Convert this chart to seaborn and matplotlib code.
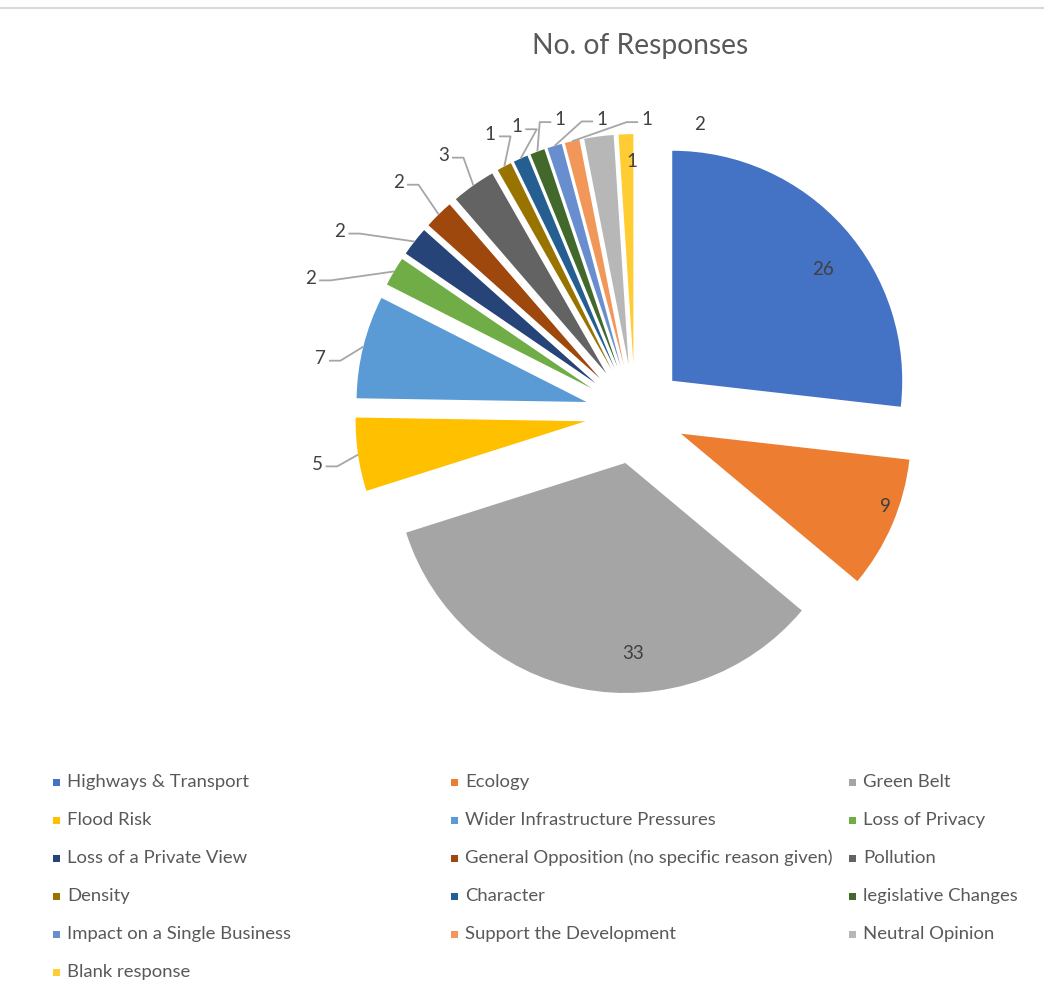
import numpy as np
import matplotlib
matplotlib.use("Agg")
import matplotlib.pyplot as plt
from matplotlib.patches import Rectangle
from matplotlib.lines import Line2D
import seaborn as sns

# ---------------- data ----------------
categories = [
    "Highways & Transport", "Ecology", "Green Belt", "Flood Risk",
    "Wider Infrastructure Pressures", "Loss of Privacy", "Loss of a Private View",
    "General Opposition (no specific reason given)", "Pollution", "Density",
    "Character", "legislative Changes", "Impact on a Single Business",
    "Support the Development", "Neutral Opinion", "Blank response",
]
responses = [26, 9, 33, 5, 7, 2, 2, 2, 3, 1, 1, 1, 1, 1, 2, 1]
title_text = "No. of Responses"

# ---------------- style ----------------
colors = ["#4472C4", "#ED7D31", "#A5A5A5", "#FFC000", "#5B9BD5", "#70AD47",
          "#264478", "#9E480E", "#636363", "#997300", "#255E91", "#43682B",
          "#698ED0", "#F1975A", "#B7B7B7", "#FFCD33"]
# label layout: (radius from pie centre, angle shift clockwise deg, leader line?)
label_layout = [
    (1.03, 4.2, False), (1.16, -3.0, False), (1.04, -10.6, False),
    (1.40, -0.6, True), (1.39, -3.9, True), (1.53, -7.9, True),
    (1.51, -6.3, True), (1.44, -1.1, True), (1.40, -1.3, True),
    (1.37, 0.5, True), (1.35, 1.7, True), (1.32, 6.1, True),
    (1.29, 10.3, True), (1.28, 15.3, True), (1.29, 20.0, False),
    (1.10, 1.2, False),
]

sns.set_theme(style="white")
plt.rcParams["font.family"] = ["Lato", "DejaVu Sans"]
palette = sns.color_palette(colors)

W, H = 1044, 996
fig = plt.figure(figsize=(W / 100, H / 100), dpi=100)
fig.patch.set_facecolor("white")

# pie axes (centre ~ (635, 414) px from top, radius ~230 px)
cx, cy, R = 635, 414, 230
half = 1.6
ax = fig.add_axes([(cx - half * R) / W, (H - cy - half * R) / H,
                   2 * half * R / W, 2 * half * R / H])
wedges, _ = ax.pie(responses, colors=palette, startangle=90, counterclock=False,
                   explode=[0.217] * len(responses), radius=1.0,
                   wedgeprops=dict(linewidth=0))
ax.set_xlim(-half, half)
ax.set_ylim(-half, half)
ax.set_aspect("equal")
ax.axis("off")

label_color = "#404040"
line_color = "#A6A6A6"
for w, val, (rad, dshift, leader) in zip(wedges, responses, label_layout):
    mid = np.deg2rad((w.theta1 + w.theta2) / 2.0)
    a = mid - np.deg2rad(dshift)
    lx, ly = rad * np.cos(a), rad * np.sin(a)
    ax.text(lx, ly, str(val), ha="center", va="center", fontsize=13.5,
            color=label_color)
    if leader:
        ex = w.center[0] + w.r * np.cos(mid)
        ey = w.center[1] + w.r * np.sin(mid)
        s = 1.0 if ex > lx else -1.0
        xs = [lx + s * 0.038, lx + s * 0.088, ex]
        ys = [ly - 0.01, ly - 0.01, ey]
        ax.add_line(Line2D(xs, ys, color=line_color, lw=1.3,
                           solid_capstyle="butt"))

# title
fig.text(640 / W, 1 - 46 / H, title_text, ha="center", va="center",
         fontsize=20.3, color="#595959")

# top border line
fig.add_artist(Line2D([0, 1], [1 - 8 / H, 1 - 8 / H], color="#D9D9D9", lw=1.5,
                      transform=fig.transFigure))

# legend (row-major, 3 columns)
col_x = [53, 451, 849]
row_y0, row_dy = 782, 38
sq = 7
for i, (name, col) in enumerate(zip(categories, palette)):
    r, c = divmod(i, 3)
    x = col_x[c]
    y = row_y0 + r * row_dy
    fig.add_artist(Rectangle((x / W, 1 - (y + sq / 2) / H), sq / W, sq / H,
                             facecolor=col, edgecolor="none",
                             transform=fig.transFigure))
    fig.text((x + 14) / W, 1 - y / H, name, ha="left", va="center",
             fontsize=13.3, color="#595959")

fig.savefig("out.png", dpi=100, facecolor="white")
